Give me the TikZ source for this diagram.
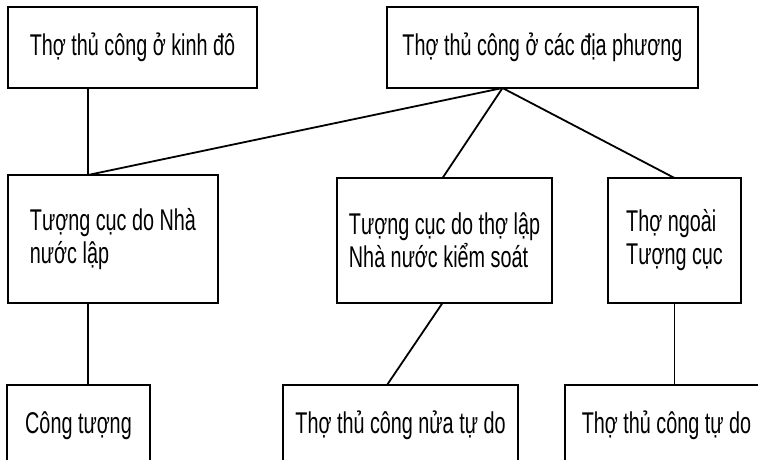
\documentclass[tikz,border=0pt]{standalone}
\usepackage{fontspec}
\setmainfont[FakeStretch=0.66]{Liberation Sans}
\tikzset{
	hop/.style={draw, line width=1.8pt, inner sep=0pt, outer sep=0pt, font=\fontsize{30}{33}\selectfont},
	noi/.style={line width=1.8pt}
}
\begin{document}
\begin{tikzpicture}[x=1pt, y=-1pt]
	\useasboundingbox (0,0) rectangle (758,460);
	\clip (0,0) rectangle (758,460);
	%Hang tren
	\node[hop, minimum width=249pt, minimum height=81pt] (kinhdo) at (132.5,47.5) {Thợ thủ công ở kinh đô};
	\node[hop, minimum width=311pt, minimum height=81pt] (diaphuong) at (542.5,47.5) {Thợ thủ công ở các địa phương};
	%Hang giua
	\node[hop, minimum width=210pt, minimum height=128pt, align=left] (nhanuoc) at (113,239) {Tượng cục do Nhà\\nước lập};
	\node[hop, minimum width=215pt, minimum height=125pt, align=left] (tholap) at (444.5,240.5) {Tượng cục do thợ lập\\Nhà nước kiểm soát};
	\node[hop, minimum width=133pt, minimum height=125pt, align=left] (ngoai) at (674.5,240.5) {Thợ ngoài\\Tượng cục};
	%Hang duoi (bi cat o mep duoi)
	\node[hop, minimum width=143pt, minimum height=81pt] (congtuong) at (78.5,425.5) {Công tượng};
	\node[hop, minimum width=235pt, minimum height=81pt] (nuatudo) at (400.5,425.5) {Thợ thủ công nửa tự do};
	\node[hop, minimum width=203pt, minimum height=81pt] (tudo) at (666.5,425.5) {Thợ thủ công tự do};

	\coordinate (hub) at ([xshift=-40pt]diaphuong.south);%diem toa ra
	\draw[noi] ([xshift=80pt]kinhdo.south west) -- ([xshift=80pt]nhanuoc.north west);%kinh do xuong
	\draw[noi] (hub) -- ([xshift=80pt]nhanuoc.north west);
	\draw[noi] (hub) -- ([xshift=-2pt]tholap.north);
	\draw[noi] (hub) -- (ngoai.north);
	\draw[noi] ([xshift=80pt]nhanuoc.south west) coordinate (p) -- (p |- congtuong.north);
	\draw[noi] ([xshift=-2pt]tholap.south) -- ([xshift=104pt]nuatudo.north west);
	\draw[noi] (ngoai.south) -- (ngoai.south |- tudo.north);
\end{tikzpicture}
\end{document}
